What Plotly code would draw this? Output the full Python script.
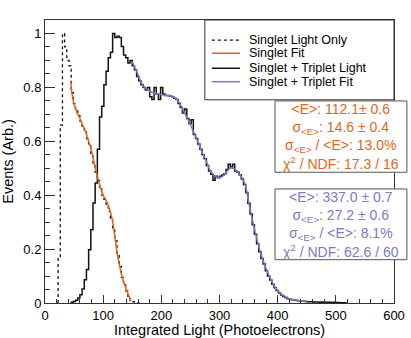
import plotly.graph_objects as go

# histogram binning (Photoelectrons)
bin_width = 3.75

# Singlet Light Only (dotted histogram), first bin index = 6
singlet_first_bin = 6
singlet_counts = [0.168, 0.66, 1.0, 0.95, 0.90, 0.88, 0.78, 0.74, 0.715, 0.695,
                  0.675, 0.655, 0.635, 0.61, 0.585, 0.555, 0.52, 0.485, 0.455, 0.43,
                  0.40, 0.385, 0.36, 0.34, 0.315, 0.27, 0.23, 0.18, 0.135, 0.095,
                  0.07, 0.045, 0.025, 0.01, 0.005, 0.003, 0.001]

# Singlet + Triplet Light (solid histogram), first bin index = 12
total_first_bin = 12
total_counts = [0.003, 0.006, 0.01, 0.019, 0.031, 0.052, 0.086, 0.124, 0.198, 0.272,
                0.371, 0.445, 0.57, 0.69, 0.73, 0.81, 0.86, 0.91, 0.93, 1.0,
                0.985, 0.99, 0.985, 0.952, 0.92, 0.91, 0.89, 0.90, 0.88, 0.865,
                0.84, 0.825, 0.81, 0.80, 0.79, 0.80, 0.765, 0.755, 0.80, 0.775,
                0.755, 0.80, 0.775, 0.77, 0.77, 0.768, 0.765, 0.76, 0.755, 0.74,
                0.725, 0.705, 0.72, 0.685, 0.665, 0.68, 0.625, 0.61, 0.59, 0.57,
                0.55, 0.535, 0.51, 0.49, 0.478, 0.455, 0.47, 0.465, 0.47, 0.475,
                0.48, 0.495, 0.515, 0.505, 0.515, 0.49, 0.485, 0.475, 0.46, 0.44,
                0.41, 0.37, 0.33, 0.29, 0.255, 0.22, 0.19, 0.165, 0.145, 0.12,
                0.10, 0.085, 0.07, 0.057, 0.046, 0.037, 0.03, 0.024, 0.02, 0.016,
                0.014, 0.012, 0.011, 0.009, 0.008, 0.007, 0.007, 0.006, 0.005, 0.005,
                0.005, 0.004, 0.004, 0.004, 0.003, 0.004, 0.003, 0.003, 0.003, 0.002,
                0.003, 0.002, 0.002, 0.001, 0.001, 0.001]

# Singlet fit curve
singlet_fit_x = [44.4, 47.6, 52, 56.2, 60, 64.8, 70, 73.4, 78.6, 85, 90, 94.5, 100,
                 106, 111.3, 115.7, 120, 124, 128.4, 134, 140, 145.6, 147.5]
singlet_fit_y = [0.82, 0.76, 0.725, 0.70, 0.685, 0.66, 0.635, 0.61, 0.575, 0.515, 0.47,
                 0.433, 0.40, 0.377, 0.346, 0.309, 0.247, 0.186, 0.136, 0.086, 0.049,
                 0.019, 0.005]

# Singlet + Triplet fit curve
total_fit_x = [150, 154, 157.5, 163, 169, 177.6, 186, 195, 203, 212, 220, 229, 237.7,
               246, 255, 263.5, 270, 275, 283, 290, 300, 309, 318, 326, 335, 340, 345,
               350, 355, 360, 365, 370, 375, 380, 385, 390, 395, 400, 405, 410, 415,
               420, 430, 440, 450]
total_fit_y = [0.895, 0.875, 0.86, 0.83, 0.805, 0.79, 0.78, 0.775, 0.772, 0.77, 0.766,
               0.75, 0.715, 0.68, 0.637, 0.594, 0.56, 0.54, 0.495, 0.475, 0.465, 0.477,
               0.50, 0.497, 0.475, 0.46, 0.43, 0.375, 0.325, 0.275, 0.23, 0.19, 0.158,
               0.128, 0.103, 0.08, 0.061, 0.046, 0.035, 0.027, 0.021, 0.016, 0.011,
               0.008, 0.006]

legend_labels = ["Singlet Light Only", "Singlet Fit", "Singlet + Triplet Light", "Singlet + Triplet Fit"]
singlet_stats = "&lt;E&gt;: 112.1± 0.6<br>σ<sub>&lt;E&gt;</sub>: 14.6 ± 0.4<br>σ<sub>&lt;E&gt;</sub> / &lt;E&gt;: 13.0%<br>χ<sup>2</sup> / NDF: 17.3 / 16"
total_stats = "&lt;E&gt;: 337.0 ± 0.7<br>σ<sub>&lt;E&gt;</sub>: 27.2 ± 0.6<br>σ<sub>&lt;E&gt;</sub> / &lt;E&gt;: 8.1%<br>χ<sup>2</sup> / NDF: 62.6 / 60"

ORANGE = "#E2661A"
BLUE = "#7A7AC6"
FONT = "Liberation Sans, Arial, sans-serif"


def hist_xy(first_bin, counts):
    edges = [bin_width * (first_bin + i) for i in range(len(counts) + 1)]
    return [edges[0]] + edges, [0] + counts + [0]


fig = go.Figure()

hx, hy = hist_xy(total_first_bin, total_counts)
fig.add_trace(go.Scatter(x=hx, y=hy, mode="lines", line=dict(color="#111111", width=1.5, shape="hv"),
                         name=legend_labels[2], showlegend=False))

sx, sy = hist_xy(singlet_first_bin, singlet_counts)
fig.add_trace(go.Scatter(x=sx, y=sy, mode="lines", line=dict(color="#111111", width=1.3, shape="hv", dash="dot"),
                         name=legend_labels[0], showlegend=False))

fig.add_trace(go.Scatter(x=singlet_fit_x, y=singlet_fit_y, mode="lines",
                         line=dict(color=ORANGE, width=1.5, shape="spline"),
                         name=legend_labels[1], showlegend=False))

fig.add_trace(go.Scatter(x=total_fit_x, y=total_fit_y, mode="lines",
                         line=dict(color=BLUE, width=1.5, shape="spline"),
                         name=legend_labels[3], showlegend=False))

# legend box, drawn by hand to keep ROOT-like spacing
shapes = [dict(type="rect", xref="paper", yref="paper", x0=0.458, x1=1.0, y0=0.718, y1=1.0,
               line=dict(color="#333333", width=1), fillcolor="white", layer="above")]
legend_y = [0.929, 0.8825, 0.8295, 0.782]
legend_styles = [dict(color="#111111", width=1.3, dash="dot"), dict(color=ORANGE, width=1.5),
                 dict(color="#111111", width=1.5), dict(color=BLUE, width=1.5)]
annotations = []
for lbl, ly, st in zip(legend_labels, legend_y, legend_styles):
    shapes.append(dict(type="line", xref="paper", yref="paper", x0=0.478, x1=0.559, y0=ly, y1=ly,
                       line=st, layer="above"))
    annotations.append(dict(xref="paper", yref="paper", x=0.578, y=ly, text=lbl, showarrow=False,
                            xanchor="left", yanchor="middle", font=dict(size=12.5, color="black", family=FONT)))

# fit result boxes
for (y0, y1, txt, col) in [(0.462, 0.714, singlet_stats, ORANGE), (0.153, 0.403, total_stats, BLUE)]:
    shapes.append(dict(type="rect", xref="paper", yref="paper", x0=0.659, x1=1.037, y0=y0, y1=y1,
                       line=dict(color="#555555", width=1), fillcolor="white", layer="above"))
    annotations.append(dict(xref="paper", yref="paper", x=0.848, y=(y0 + y1) / 2, text=txt,
                            showarrow=False, xanchor="center", yanchor="middle", align="center",
                            font=dict(size=14, color=col, family=FONT)))

fig.update_layout(
    width=411, height=338,
    margin=dict(l=45, r=17, t=20, b=35, autoexpand=False),
    plot_bgcolor="white", paper_bgcolor="white",
    font=dict(family=FONT, size=13, color="black"),
    shapes=shapes, annotations=annotations,
)

fig.update_xaxes(range=[0, 600], dtick=100, ticks="inside", ticklen=8, tickcolor="#333333",
                 minor=dict(dtick=20, ticks="inside", ticklen=4, tickcolor="#333333"),
                 showline=True, linecolor="#333333", linewidth=1, mirror=True,
                 showgrid=False, zeroline=False, automargin=False,
                 title=dict(text="Integrated Light (Photoelectrons)", font=dict(size=14.5), standoff=2),
                 tickfont=dict(size=13))
fig.update_yaxes(range=[0, 1.05], dtick=0.2, ticks="inside", ticklen=10, tickcolor="#333333",
                 minor=dict(dtick=0.05, ticks="inside", ticklen=5, tickcolor="#333333"),
                 showline=True, linecolor="#333333", linewidth=1, mirror=True,
                 showgrid=False, zeroline=False, automargin=False,
                 title=dict(text="Events (Arb.)", font=dict(size=14.5), standoff=6),
                 tickfont=dict(size=13))

fig.write_html("out.html", config={"displayModeBar": False},
               post_script="document.body.style.margin='0';")
